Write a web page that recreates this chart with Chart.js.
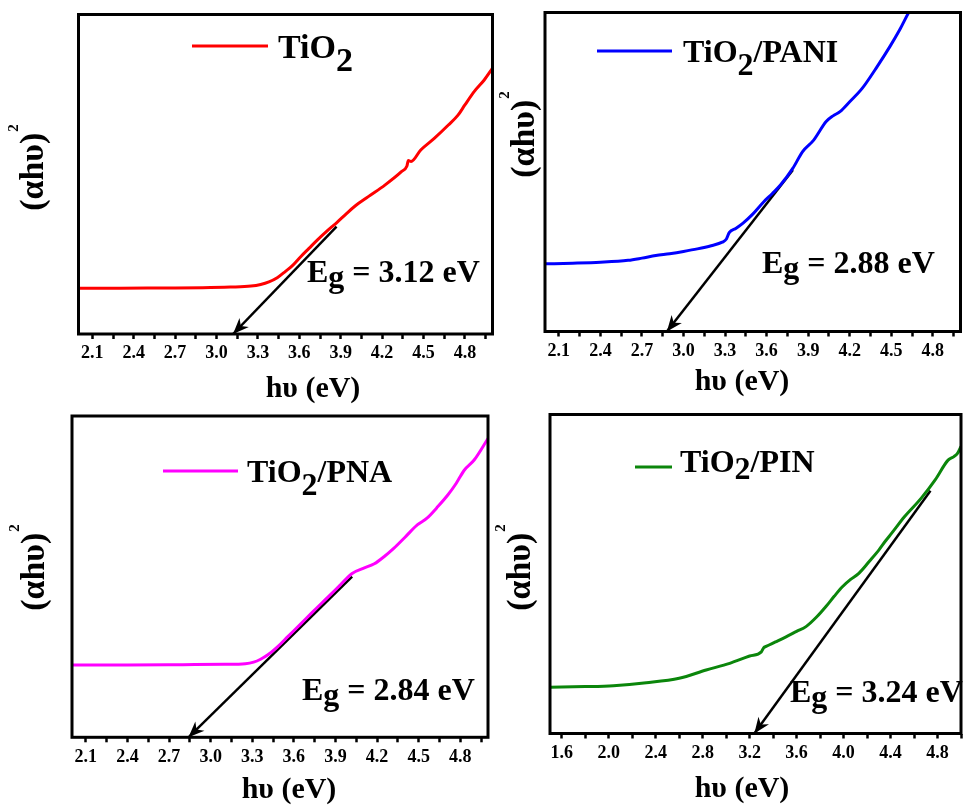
<!DOCTYPE html>
<html>
<head>
<meta charset="utf-8">
<script src="https://cdn.jsdelivr.net/npm/chart.js@4/dist/chart.umd.min.js"></script>
<style>
  html, body { margin: 0; padding: 0; background: #fff; }
  #wrap { position: relative; width: 965px; height: 806px; overflow: hidden; background: #fff; }
  #wrap canvas { position: absolute; left: 0; top: 0; }
</style>
</head>
<body>
<div id="wrap">
  <canvas id="p1" width="965" height="806"></canvas>
  <canvas id="p2" width="965" height="806"></canvas>
  <canvas id="p3" width="965" height="806"></canvas>
  <canvas id="p4" width="965" height="806"></canvas>
</div>
<script>
// Tauc plots: (αhυ)² versus photon energy for the four samples (arbitrary units, 0–100)

// Tick values and labels
const ticksA = [2.1, 2.4, 2.7, 3.0, 3.3, 3.6, 3.9, 4.2, 4.5, 4.8];
const labelsA = ['2.1', '2.4', '2.7', '3.0', '3.3', '3.6', '3.9', '4.2', '4.5', '4.8'];
const minorA = [2.25, 2.55, 2.85, 3.15, 3.45, 3.75, 4.05, 4.35, 4.65, 4.95];
const ticksB = [1.6, 2.0, 2.4, 2.8, 3.2, 3.6, 4.0, 4.4, 4.8];
const labelsB = ['1.6', '2.0', '2.4', '2.8', '3.2', '3.6', '4.0', '4.4', '4.8'];
const minorB = [1.8, 2.2, 2.6, 3.0, 3.4, 3.8, 4.2, 4.6, 5.0];

// TiO2
const tio2E = [2.0, 2.3, 2.6, 2.9, 3.1, 3.25, 3.32, 3.38, 3.44, 3.5, 3.55, 3.61, 3.67, 3.73, 3.8, 3.87, 3.94, 4.0, 4.1, 4.22, 4.34, 4.38, 4.39, 4.41, 4.48, 4.58, 4.68, 4.75, 4.8, 4.87, 4.94, 5.0];
const tio2A = [14.3, 14.3, 14.4, 14.5, 14.7, 15.0, 15.5, 16.3, 17.6, 19.6, 21.4, 24.2, 26.8, 29.4, 32.2, 34.8, 37.6, 39.9, 43.0, 46.6, 50.8, 52.6, 54.3, 54.0, 57.6, 61.3, 65.4, 68.5, 71.7, 76.0, 79.5, 83.2];
const tio2Tangent = [3.87, 33.6];
const tio2Eg = 3.12;

// TiO2/PANI
const paniE = [2.0, 2.2, 2.4, 2.6, 2.7, 2.8, 2.9, 3.0, 3.1, 3.2, 3.28, 3.31, 3.33, 3.38, 3.43, 3.5, 3.58, 3.64, 3.70, 3.79, 3.86, 3.94, 4.03, 4.08, 4.13, 4.2, 4.29, 4.39, 4.49, 4.56, 4.63, 4.7];
const paniA = [21.2, 21.4, 21.7, 22.3, 23.0, 23.8, 24.4, 25.1, 25.9, 26.9, 28.0, 29.0, 31.0, 32.4, 34.0, 36.8, 40.7, 43.2, 45.9, 51.2, 56.4, 60.0, 65.8, 67.6, 68.9, 72.0, 76.2, 82.5, 89.3, 94.5, 100.3, 105];
const paniTangent = [3.79, 50.6];
const paniEg = 2.88;

// TiO2/PNA
const pnaE = [2.0, 2.4, 2.8, 3.1, 3.25, 3.31, 3.36, 3.41, 3.48, 3.56, 3.65, 3.74, 3.84, 3.93, 4.02, 4.1, 4.18, 4.25, 4.32, 4.4, 4.49, 4.56, 4.63, 4.71, 4.77, 4.83, 4.9, 5.0];
const pnaA = [22.5, 22.5, 22.6, 22.7, 22.9, 23.4, 24.3, 25.6, 28.1, 31.5, 35.3, 39.2, 43.4, 47.2, 51.0, 52.6, 54.0, 56.2, 58.8, 62.2, 66.1, 68.2, 71.4, 75.4, 79.0, 83.2, 86.3, 93.0];
const pnaTangent = [4.02, 50.0];
const pnaEg = 2.84;

// TiO2/PIN
const pinE = [1.5, 1.8, 2.04, 2.32, 2.6, 2.83, 3.03, 3.2, 3.3, 3.32, 3.34, 3.42, 3.51, 3.6, 3.68, 3.77, 3.85, 3.92, 3.99, 4.06, 4.13, 4.22, 4.30, 4.36, 4.41, 4.52, 4.66, 4.78, 4.89, 4.94, 4.97, 5.0];
const pinA = [14.5, 14.7, 15.0, 15.9, 17.3, 19.9, 22.0, 24.3, 25.6, 26.9, 27.3, 28.7, 30.3, 32.0, 33.5, 36.5, 39.8, 43.0, 46.0, 48.3, 50.2, 54.0, 57.5, 60.5, 62.8, 68.0, 73.7, 79.5, 85.7, 86.8, 87.8, 90.0];
const pinTangent = [4.74, 76.1];
const pinEg = 3.24;

const SERIF = '"Liberation Serif", "Times New Roman", serif';
const font = (size) => `bold ${size}px ${SERIF}`;

// draw a row of text pieces; each piece is [text, baseline shift, size]
function drawRuns(ctx, x, y, parts) {
  ctx.textAlign = 'left';
  ctx.textBaseline = 'alphabetic';
  for (const [t, dy, size] of parts) {
    ctx.font = font(size);
    ctx.fillText(t, x, y + dy);
    x += ctx.measureText(t).width;
  }
}

function panelPlugin(p) {
  return {
    id: 'panelDecor',
    afterDatasetsDraw(chart) {
      const ctx = chart.ctx;
      const xs = chart.scales.x, ys = chart.scales.y;
      // arrow head at the band-gap intercept
      const x0 = xs.getPixelForValue(p.tangent[0]), y0 = ys.getPixelForValue(p.tangent[1]);
      const x1 = xs.getPixelForValue(p.eg), y1 = ys.getPixelForValue(0);
      const ang = Math.atan2(y1 - y0, x1 - x0);
      const L = 16, W = 6.5;
      ctx.save();
      ctx.fillStyle = '#000';
      ctx.beginPath();
      ctx.moveTo(x1, y1);
      ctx.lineTo(x1 - L * Math.cos(ang) + W * Math.sin(ang), y1 - L * Math.sin(ang) - W * Math.cos(ang));
      ctx.lineTo(x1 - 0.7 * L * Math.cos(ang), y1 - 0.7 * L * Math.sin(ang));
      ctx.lineTo(x1 - L * Math.cos(ang) - W * Math.sin(ang), y1 - L * Math.sin(ang) + W * Math.cos(ang));
      ctx.closePath();
      ctx.fill();
      ctx.restore();
    },
    afterDraw(chart) {
      const ctx = chart.ctx;
      const a = chart.chartArea;
      ctx.save();
      // frame
      ctx.strokeStyle = '#000';
      ctx.lineWidth = 3;
      ctx.strokeRect(a.left, a.top, a.right - a.left, a.bottom - a.top);
      // legend
      ctx.strokeStyle = p.color;
      ctx.lineWidth = 3;
      ctx.beginPath();
      ctx.moveTo(p.legLine[0], p.legLine[2]);
      ctx.lineTo(p.legLine[1], p.legLine[2]);
      ctx.stroke();
      ctx.fillStyle = '#000';
      drawRuns(ctx, p.legText[0], p.legText[1], [['TiO', 0, p.legSize], ['2', p.subShift, p.legSize], [p.suffix, 0, p.legSize]]);
      // band gap label
      drawRuns(ctx, p.egText[0], p.egText[1], [['E', 0, 32], ['g', 5, 32], [' = ' + p.eg.toFixed(2) + ' eV', 0, 32]]);
      // x title
      ctx.font = font(30);
      ctx.textAlign = 'center';
      ctx.textBaseline = 'alphabetic';
      ctx.fillText('h\u03C5 (eV)', p.xTitle[0], p.xTitle[1]);
      // y title, rotated
      ctx.translate(p.yTitle[0], p.yTitle[1]);
      ctx.rotate(-Math.PI / 2);
      ctx.font = font(34);
      const body = '(\u03B1h\u03C5)';
      const w1 = ctx.measureText(body).width;
      ctx.font = font(15);
      const w2 = ctx.measureText('2').width;
      const sx = -(w1 + w2) / 2;
      ctx.textAlign = 'left';
      ctx.textBaseline = 'middle';
      ctx.font = font(34);
      ctx.fillText(body, sx, 0);
      ctx.font = font(15);
      ctx.fillText('2', sx + w1 + 1, -20);
      ctx.restore();
    }
  };
}

function makePanel(id, p) {
  const allTicks = p.major.concat(p.minor).sort((a, b) => a - b);
  new Chart(document.getElementById(id), {
    type: 'line',
    data: {
      datasets: [
        {
          data: p.xs.map((x, i) => ({ x: x, y: p.ys[i] })),
          borderColor: p.color,
          borderWidth: 3,
          pointRadius: 0,
          cubicInterpolationMode: 'monotone',
          fill: false
        },
        {
          data: [{ x: p.tangent[0], y: p.tangent[1] }, { x: p.eg, y: 0 }],
          borderColor: '#000',
          borderWidth: 2.5,
          pointRadius: 0,
          fill: false
        }
      ]
    },
    options: {
      responsive: false,
      animation: false,
      devicePixelRatio: 1,
      layout: { padding: p.pad },
      plugins: { legend: { display: false }, tooltip: { enabled: false } },
      scales: {
        x: {
          type: 'linear',
          min: p.min,
          max: p.max,
          afterBuildTicks: (s) => { s.ticks = allTicks.map(v => ({ value: v })); },
          afterFit: (s) => { s.height = 40; },
          border: { display: false },
          grid: { drawOnChartArea: false, drawTicks: true, tickLength: 5, tickWidth: 2.5, tickColor: '#000' },
          ticks: {
            autoSkip: false,
            maxRotation: 0,
            minRotation: 0,
            padding: 4,
            color: '#000',
            font: { family: SERIF, weight: 'bold', size: 18 },
            callback: (v) => {
              const i = p.major.findIndex(m => Math.abs(m - v) < 1e-6);
              return i >= 0 ? p.labels[i] : '';
            }
          }
        },
        y: { display: false, min: 0, max: 100 }
      }
    },
    plugins: [panelPlugin(p)]
  });
}

makePanel('p1', {
  xs: tio2E, ys: tio2A, color: '#ff0000', tangent: tio2Tangent, eg: tio2Eg,
  min: 2.0, max: 5.0, major: ticksA, labels: labelsA, minor: minorA,
  pad: { left: 78.5, top: 14.5, right: 472.5, bottom: 432 },
  legLine: [192, 268, 46], legText: [278, 58], legSize: 34, subShift: 13, suffix: '',
  egText: [307, 282], xTitle: [313, 397], yTitle: [34, 168]
});
makePanel('p2', {
  xs: paniE, ys: paniA, color: '#0000ff', tangent: paniTangent, eg: paniEg,
  min: 2.0, max: 5.0, major: ticksA, labels: labelsA, minor: minorA,
  pad: { left: 545, top: 12.5, right: 4.5, bottom: 434.5 },
  legLine: [597, 672, 51], legText: [683, 62], legSize: 32, subShift: 13, suffix: '/PANI',
  egText: [762, 273], xTitle: [742, 390], yTitle: [525, 135]
});
makePanel('p3', {
  xs: pnaE, ys: pnaA, color: '#ff00ff', tangent: pnaTangent, eg: pnaEg,
  min: 2.0, max: 5.0, major: ticksA, labels: labelsA, minor: minorA,
  pad: { left: 72, top: 416, right: 477, bottom: 28.7 },
  legLine: [163, 238, 471], legText: [247, 482], legSize: 32, subShift: 13, suffix: '/PNA',
  egText: [302, 700], xTitle: [289, 798], yTitle: [35, 568]
});
makePanel('p4', {
  xs: pinE, ys: pinA, color: '#0b860b', tangent: pinTangent, eg: pinEg,
  min: 1.5, max: 5.0, major: ticksB, labels: labelsB, minor: minorB,
  pad: { left: 550, top: 414.5, right: 4, bottom: 32.5 },
  legLine: [635, 672, 467], legText: [680, 472], legSize: 32, subShift: 7, suffix: '/PIN',
  egText: [790, 702], xTitle: [742, 797], yTitle: [521, 568]
});
</script>
</body>
</html>
